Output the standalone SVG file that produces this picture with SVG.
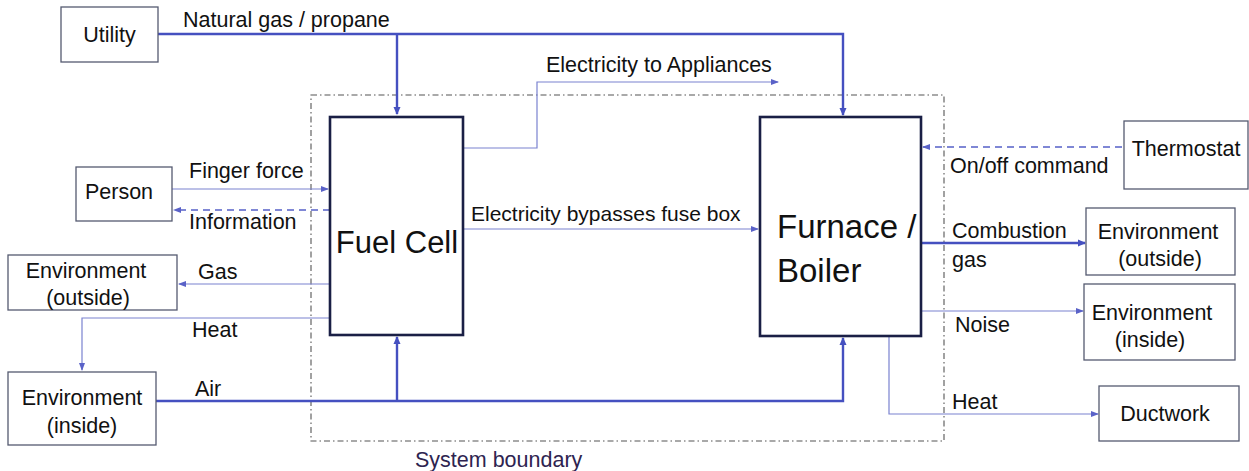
<svg xmlns="http://www.w3.org/2000/svg" width="1249" height="471" viewBox="0 0 1249 471">
<style>
text{font-family:"Liberation Sans",Arial,sans-serif;font-size:21.5px;fill:#111}
.box{fill:#fff;stroke:#555a70;stroke-width:1.3}
.main{fill:#fff;stroke:#1a1f45;stroke-width:2.6}
.thick{fill:none;stroke:#4550c0;stroke-width:2.4}
.thin{fill:none;stroke:#7a82d0;stroke-width:1.2}
.dash{fill:none;stroke:#5560c8;stroke-width:1.4;stroke-dasharray:7 5}
.bnd{fill:none;stroke:#555;stroke-width:1.1;stroke-dasharray:6 3 1.5 3}
</style>
<defs>
<marker id="ah" markerWidth="8" markerHeight="8" refX="7" refY="4" orient="auto" markerUnits="userSpaceOnUse"><path d="M0,0.5 L8,4 L0,7.5 Z" fill="#4550c0"/></marker>
<marker id="ahs" markerWidth="8" markerHeight="8" refX="7" refY="4" orient="auto" markerUnits="userSpaceOnUse"><path d="M0,1 L8,4 L0,7 Z" fill="#5a62c8"/></marker>
</defs>
<rect class="bnd" x="311" y="95" width="633" height="346"/>
<text x="415" y="467" style="fill:#2e2450">System boundary</text>
<g id="connectors">
<path class="thick" d="M158,34 H843 V115" marker-end="url(#ah)"/>
<path class="thick" d="M397,34 V114" marker-end="url(#ah)"/>
<path class="thin" d="M463,148 H537 V82 H778" marker-end="url(#ahs)"/>
<path class="thin" d="M463,229 H758" marker-end="url(#ahs)"/>
<path class="dash" d="M1122,147 H923" marker-end="url(#ahs)"/>
<path class="thick" d="M921,243 H1085" marker-end="url(#ah)"/>
<path class="thin" d="M921,311 H1083" marker-end="url(#ahs)"/>
<path class="thin" d="M889,336 V414 H1098" marker-end="url(#ahs)"/>
<path class="thin" d="M172,189 H328" marker-end="url(#ahs)"/>
<path class="dash" d="M330,210 H174" marker-end="url(#ahs)"/>
<path class="thin" d="M330,284 H179" marker-end="url(#ahs)"/>
<path class="thin" d="M330,318 H82 V370" marker-end="url(#ahs)"/>
<path class="thick" d="M156,401 H843 V338" marker-end="url(#ah)"/>
<path class="thick" d="M397,401 V337" marker-end="url(#ah)"/>
</g>
<g id="labels">
<text x="183" y="27">Natural gas / propane</text>
<text x="546" y="72">Electricity to Appliances</text>
<text x="471" y="221" style="font-size:21px">Electricity bypasses fuse box</text>
<text x="950" y="173">On/off command</text>
<text x="952" y="238">Combustion</text>
<text x="952" y="267">gas</text>
<text x="955" y="332">Noise</text>
<text x="952" y="409">Heat</text>
<text x="189" y="178">Finger force</text>
<text x="189" y="229">Information</text>
<text x="198" y="279">Gas</text>
<text x="192" y="337">Heat</text>
<text x="195" y="396">Air</text>
</g>
<g id="utility"><rect class="box" x="61" y="7" width="97" height="55"/><text x="109.5" y="42" text-anchor="middle">Utility</text></g>
<g id="fuelcell"><rect class="main" x="330" y="117" width="133" height="218"/><text x="397" y="253" text-anchor="middle" style="font-size:31px">Fuel Cell</text></g>
<g id="furnace"><rect class="main" x="760" y="117" width="161" height="219"/><text x="777" y="238" style="font-size:33px">Furnace /</text><text x="777" y="282" style="font-size:33px">Boiler</text></g>
<g id="thermostat"><rect class="box" x="1124" y="121" width="124" height="68"/><text x="1186" y="156" text-anchor="middle">Thermostat</text></g>
<g id="env-out-right"><rect class="box" x="1086" y="208" width="149" height="67"/><text x="1158" y="239" text-anchor="middle">Environment</text><text x="1160" y="266" text-anchor="middle">(outside)</text></g>
<g id="env-in-right"><rect class="box" x="1084" y="284" width="151" height="76"/><text x="1152" y="320" text-anchor="middle">Environment</text><text x="1150" y="347" text-anchor="middle">(inside)</text></g>
<g id="ductwork"><rect class="box" x="1099" y="386" width="140" height="55"/><text x="1165" y="421" text-anchor="middle">Ductwork</text></g>
<g id="person"><rect class="box" x="76" y="167" width="96" height="54"/><text x="119" y="199" text-anchor="middle">Person</text></g>
<g id="env-out-left"><rect class="box" x="8" y="255" width="169" height="55"/><text x="86" y="278" text-anchor="middle">Environment</text><text x="88" y="305" text-anchor="middle">(outside)</text></g>
<g id="env-in-left"><rect class="box" x="8" y="372" width="148" height="73"/><text x="82" y="405" text-anchor="middle">Environment</text><text x="82" y="433" text-anchor="middle">(inside)</text></g>
</svg>
